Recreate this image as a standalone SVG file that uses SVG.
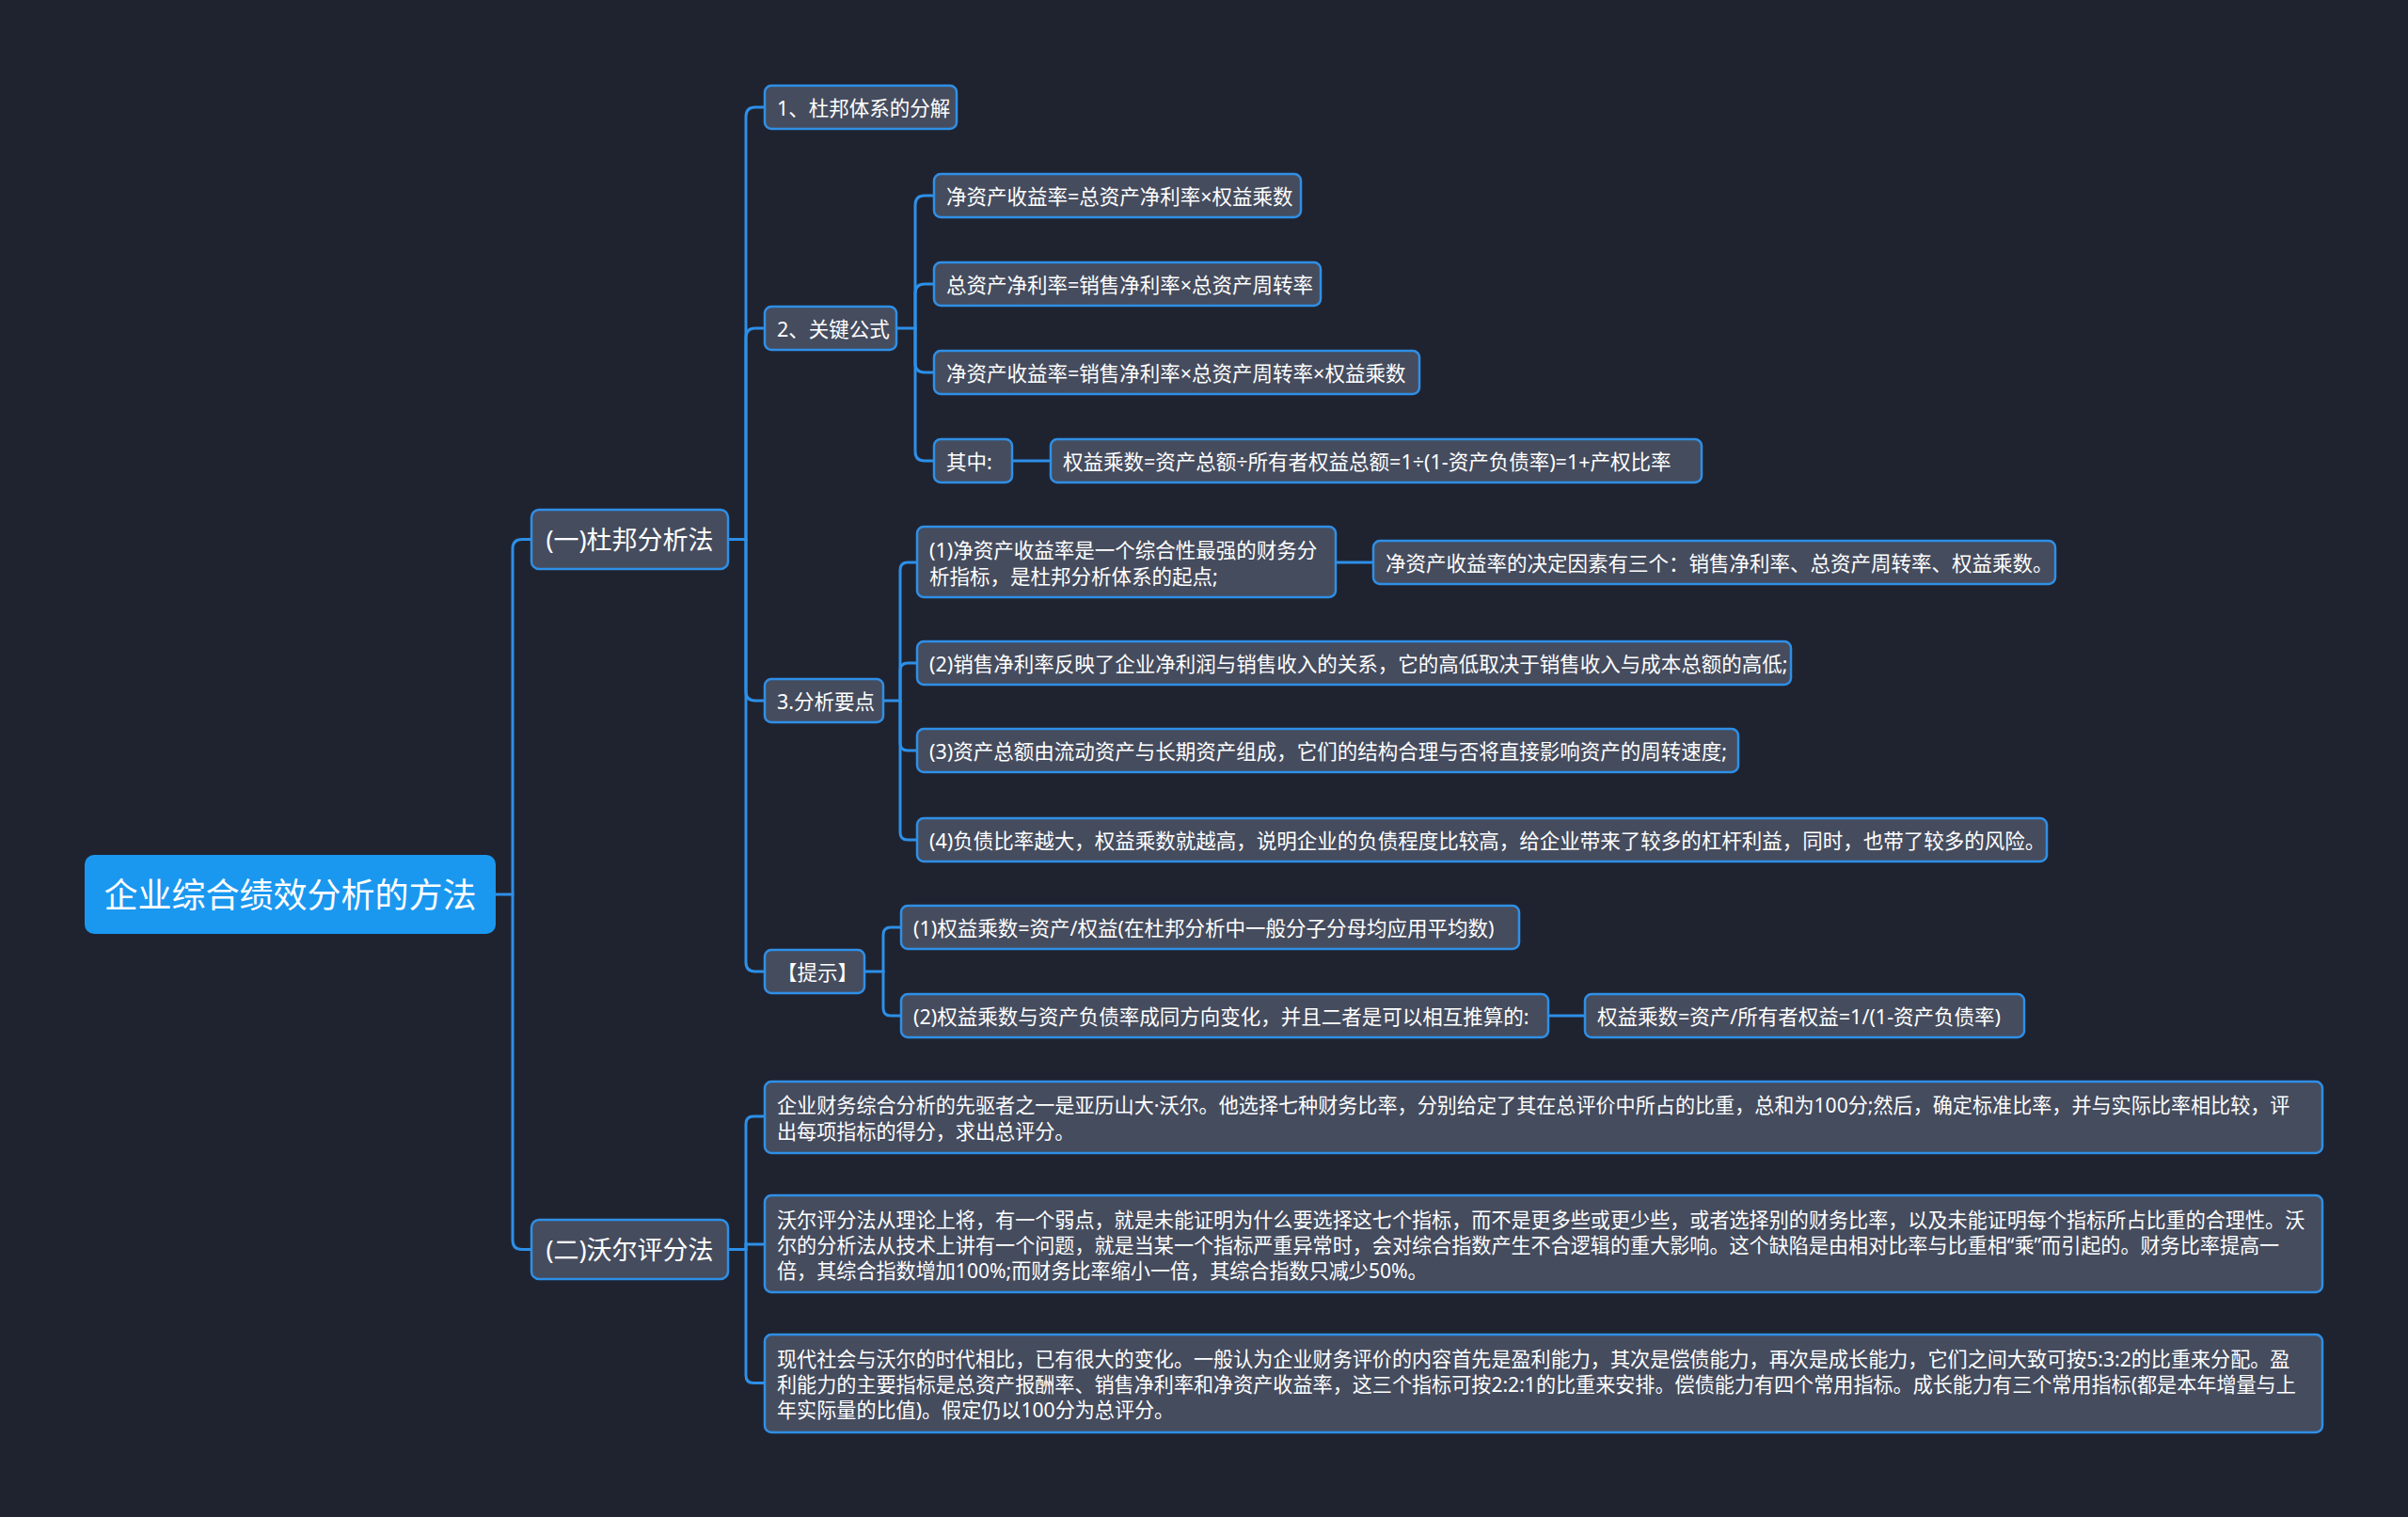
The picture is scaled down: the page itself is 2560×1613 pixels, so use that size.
<svg xmlns="http://www.w3.org/2000/svg" width="2560" height="1613" viewBox="0 0 2560 1613">
<style>
.bg{fill:#1f2330}
.n rect{fill:#454c5e;stroke:#2f8fe6;stroke-width:2.5}
.n text{fill:#ffffff;font-family:"Noto Sans","Noto Sans CJK SC","Liberation Sans",sans-serif;font-size:21.5px;dominant-baseline:central}
.p text{font-size:21.1px}
.l1 text{font-size:27px;text-anchor:middle}
.root rect{fill:#1a98f0;stroke:none}
.root text{font-size:36px;text-anchor:middle}
.c path{fill:none;stroke:#2d8fe8;stroke-width:3;stroke-linecap:round}
</style>
<rect class="bg" x="0" y="0" width="2560" height="1613"/>
<g class="c" id="connectors">
<path d="M527,951 H545"/>
<path d="M545,951 V583.5 Q545,573.5 555,573.5 H565"/>
<path d="M545,951 V1318.5 Q545,1328.5 555,1328.5 H565"/>
<path d="M774,573.5 H793"/>
<path d="M793,573.5 V124 Q793,114 803,114 H813"/>
<path d="M793,573.5 V359 Q793,349 803,349 H813"/>
<path d="M793,573.5 V735 Q793,745 803,745 H813"/>
<path d="M793,573.5 V1023 Q793,1033 803,1033 H813"/>
<path d="M953,349 H973"/>
<path d="M973,349 V218 Q973,208 983,208 H993"/>
<path d="M973,349 V312 Q973,302 983,302 H993"/>
<path d="M973,349 V386 Q973,396 983,396 H993"/>
<path d="M973,349 V480 Q973,490 983,490 H993"/>
<path d="M1076,490 H1117"/>
<path d="M939,745 H957"/>
<path d="M957,745 V606 Q957,598 965,598 H975"/>
<path d="M957,745 V713 Q957,705 965,705 H975"/>
<path d="M957,745 V790 Q957,798 965,798 H975"/>
<path d="M957,745 V885 Q957,893 965,893 H975"/>
<path d="M1420,598 H1460"/>
<path d="M919,1033 H939"/>
<path d="M939,1033 V994 Q939,986 947,986 H958"/>
<path d="M939,1033 V1072 Q939,1080 947,1080 H958"/>
<path d="M1646,1080 H1685"/>
<path d="M774,1328.5 H793"/>
<path d="M793,1328.5 V1195 Q793,1187 801,1187 H813"/>
<path d="M793,1328.5 V1323 H813"/>
<path d="M793,1328.5 V1462.5 Q793,1470.5 801,1470.5 H813"/>
</g>
<g class="n root" id="root"><rect x="90" y="909" width="437" height="84" rx="10"/><text x="308.5" y="951">企业综合绩效分析的方法</text></g>
<g class="n l1" id="dupont"><rect x="565" y="542" width="209" height="63" rx="8"/><text x="669.5" y="573.5">(一)杜邦分析法</text></g>
<g class="n l1" id="wall"><rect x="565" y="1297" width="209" height="63" rx="8"/><text x="669.5" y="1328.5">(二)沃尔评分法</text></g>
<g class="n" id="d1"><rect x="813" y="91" width="204" height="46" rx="7"/><text x="826" y="114">1、杜邦体系的分解</text></g>
<g class="n" id="d2"><rect x="813" y="326" width="140" height="46" rx="7"/><text x="826" y="349">2、关键公式</text></g>
<g class="n" id="d3"><rect x="813" y="722" width="126" height="46" rx="7"/><text x="826" y="745">3.分析要点</text></g>
<g class="n" id="d4"><rect x="813" y="1010" width="106" height="46" rx="7"/><text x="826" y="1033">【提示】</text></g>
<g class="n" id="f1"><rect x="993" y="185" width="390" height="46" rx="7"/><text x="1006" y="208">净资产收益率=总资产净利率×权益乘数</text></g>
<g class="n" id="f2"><rect x="993" y="279" width="411" height="46" rx="7"/><text x="1006" y="302">总资产净利率=销售净利率×总资产周转率</text></g>
<g class="n" id="f3"><rect x="993" y="373" width="516" height="46" rx="7"/><text x="1006" y="396">净资产收益率=销售净利率×总资产周转率×权益乘数</text></g>
<g class="n" id="f4"><rect x="993" y="467" width="83" height="46" rx="7"/><text x="1006" y="490">其中:</text></g>
<g class="n" id="f4a"><rect x="1117" y="467" width="692" height="46" rx="7"/><text x="1130" y="490">权益乘数=资产总额÷所有者权益总额=1÷(1-资产负债率)=1+产权比率</text></g>
<g class="n" id="a1"><rect x="975" y="560" width="445" height="75" rx="7"/><text x="988" y="584">(1)净资产收益率是一个综合性最强的财务分</text><text x="988" y="612">析指标，是杜邦分析体系的起点;</text></g>
<g class="n" id="a1a"><rect x="1460" y="575" width="725" height="46" rx="7"/><text x="1473" y="598">净资产收益率的决定因素有三个：销售净利率、总资产周转率、权益乘数。</text></g>
<g class="n" id="a2"><rect x="975" y="682" width="929" height="46" rx="7"/><text x="988" y="705">(2)销售净利率反映了企业净利润与销售收入的关系，它的高低取决于销售收入与成本总额的高低;</text></g>
<g class="n" id="a3"><rect x="975" y="775" width="873" height="46" rx="7"/><text x="988" y="798">(3)资产总额由流动资产与长期资产组成，它们的结构合理与否将直接影响资产的周转速度;</text></g>
<g class="n" id="a4"><rect x="975" y="870" width="1201" height="46" rx="7"/><text x="988" y="893">(4)负债比率越大，权益乘数就越高，说明企业的负债程度比较高，给企业带来了较多的杠杆利益，同时，也带了较多的风险。</text></g>
<g class="n" id="t1"><rect x="958" y="963" width="657" height="46" rx="7"/><text x="971" y="986">(1)权益乘数=资产/权益(在杜邦分析中一般分子分母均应用平均数)</text></g>
<g class="n" id="t2"><rect x="958" y="1057" width="688" height="46" rx="7"/><text x="971" y="1080">(2)权益乘数与资产负债率成同方向变化，并且二者是可以相互推算的:</text></g>
<g class="n" id="t2a"><rect x="1685" y="1057" width="467" height="46" rx="7"/><text x="1698" y="1080">权益乘数=资产/所有者权益=1/(1-资产负债率)</text></g>
<g class="n p" id="w1"><rect x="813" y="1150" width="1656" height="76" rx="7"/><text x="826" y="1174">企业财务综合分析的先驱者之一是亚历山大·沃尔。他选择七种财务比率，分别给定了其在总评价中所占的比重，总和为100分;然后，确定标准比率，并与实际比率相比较，评</text><text x="826" y="1202">出每项指标的得分，求出总评分。</text></g>
<g class="n p" id="w2"><rect x="813" y="1271" width="1656" height="103" rx="7"/><text x="826" y="1296">沃尔评分法从理论上将，有一个弱点，就是未能证明为什么要选择这七个指标，而不是更多些或更少些，或者选择别的财务比率，以及未能证明每个指标所占比重的合理性。沃</text><text x="826" y="1323">尔的分析法从技术上讲有一个问题，就是当某一个指标严重异常时，会对综合指数产生不合逻辑的重大影响。这个缺陷是由相对比率与比重相“乘”而引起的。财务比率提高一</text><text x="826" y="1350">倍，其综合指数增加100%;而财务比率缩小一倍，其综合指数只减少50%。</text></g>
<g class="n p" id="w3"><rect x="813" y="1419" width="1656" height="104" rx="7"/><text x="826" y="1444">现代社会与沃尔的时代相比，已有很大的变化。一般认为企业财务评价的内容首先是盈利能力，其次是偿债能力，再次是成长能力，它们之间大致可按5:3:2的比重来分配。盈</text><text x="826" y="1471">利能力的主要指标是总资产报酬率、销售净利率和净资产收益率，这三个指标可按2:2:1的比重来安排。偿债能力有四个常用指标。成长能力有三个常用指标(都是本年增量与上</text><text x="826" y="1498">年实际量的比值)。假定仍以100分为总评分。</text></g>
</svg>
